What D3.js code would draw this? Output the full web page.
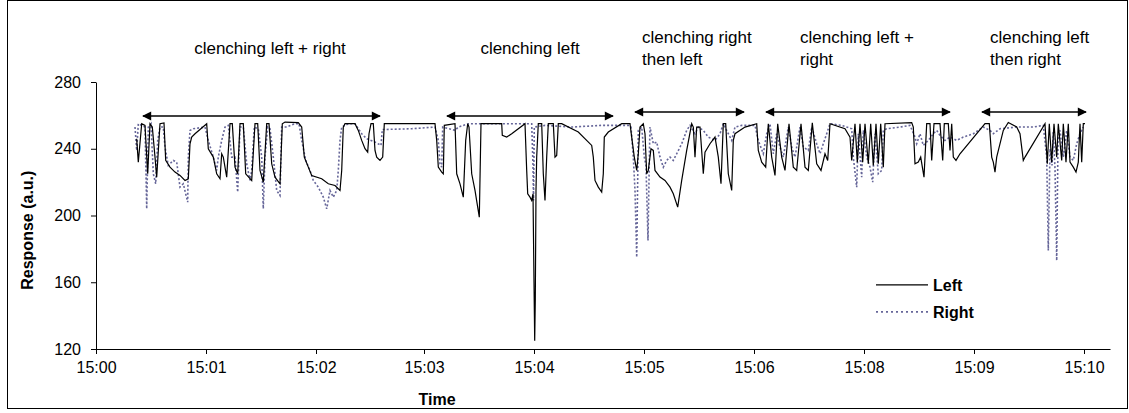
<!DOCTYPE html>
<html>
<head>
<meta charset="utf-8">
<script src="https://cdn.jsdelivr.net/npm/d3@7"></script>
<style>
  body { margin: 0; background: #fff; }
  svg { display: block; font-family: Arial, "Liberation Sans", sans-serif; }
</style>
</head>
<body>
<svg width="1129" height="413"></svg>
<script>
// sample index along the recording (x) and response in a.u. (y)
var leftSeries = [[40.7,246],[42.3,232],[45.7,255],[49,254],[51.7,225],[54,255],[56.3,253],[59,235],[60.7,223],[64,255],[68,255.5],[69.7,233],[74,229],[79,226],[84,224],[89,221],[92.3,222],[94,243],[95.7,247],[99,249],[110.7,255],[112.3,240],[117.3,235],[120.7,225],[124,222],[125.7,237],[127.3,235],[130.7,223],[134,255],[136.3,255],[139,229],[141.7,225],[144,255],[147.3,255],[149.7,225],[155.7,221],[159,255],[161.7,255],[164,227],[167.3,220],[170.7,255],[173,255],[175.7,231],[179,223],[184,219],[186.3,255],[189,256],[202.3,255.7],[205.7,253],[208.3,235],[212.3,229],[215.7,224],[225.7,222],[232.3,219],[239,218],[244,215],[245.7,227],[247.3,253],[249,255],[259,255],[262.3,251],[265.7,245],[269,240],[271.7,238],[273,249],[275,255],[277.3,255],[279,239],[280.7,235],[284,233],[286.7,235],[288.3,255],[339,255],[340.7,245],[342.3,229],[345.7,226],[347.3,225],[348.3,254],[359,255],[360.7,225],[364,219],[367.3,211],[369.7,245],[371.7,255],[373,253],[375.7,225],[379,215],[381.7,205],[383.3,199],[385,255],[405.7,255],[406.3,248],[410.7,247],[415.7,249],[429,255],[430.7,227],[431.7,213],[434,211],[435.7,209],[437,213],[438,160],[438.7,125],[439.3,150],[440,215],[440.7,235],[442.3,255],[445.7,255],[447.3,225],[449,209],[450.7,235],[452.3,255],[457.3,255],[459,235],[460.7,236],[462.3,255],[465.7,255],[482.3,250],[495.7,242],[497.3,235],[499,221],[502.3,217],[505.7,214],[507.3,225],[508.3,247],[512.3,250],[525.7,255],[534,255],[535.7,247],[538.3,235],[540.7,227],[542.3,237],[544,253],[547.3,255],[549,249],[550.7,225],[552.3,227],[555,240],[557.3,239],[559,227],[564,223],[569,221],[574,217],[577.3,213],[581.7,205],[585.7,221],[590.7,239],[595.7,255],[597.3,253],[599,235],[600.7,253],[604,253],[607.3,225],[609,238],[614,243],[619,247],[622.3,235],[625,219],[627.3,255],[629.7,255],[632.3,225],[635.7,215],[637.3,245],[639,249],[649,253],[660.7,255],[662.3,239],[665.7,232],[669.7,229],[672.3,255],[675.7,235],[679,224],[681.7,255],[685.7,235],[689,227],[693,255],[697.3,229],[700.7,227],[705,255],[709,229],[712.3,227],[716.3,255.5],[720.7,231],[725,227],[729,237],[731.7,233],[734,255],[749,252],[754,247],[755.7,233],[759,255],[761.3,232],[764,255],[766.7,232],[769,255],[772.3,231],[774.7,255],[777.3,230],[780,255],[782.3,231],[784.7,255],[787.3,229],[789,255],[815.7,255.7],[817.3,253],[819,231],[822.3,232],[824.7,235],[828,223],[830.7,255],[834,255],[835.7,233],[838,255],[844,255],[846.7,233],[848.3,255],[852.3,255],[854,239],[855.7,255],[857.3,235],[860,233],[864,237],[889,255],[893.3,255],[895.7,235],[897.3,232],[899,226],[900.7,235],[907.3,251],[912.3,255.7],[920.7,253],[924,249],[927.3,233],[929,235],[949,255],[951.3,231],[953.3,255],[955.7,232],[958,255],[960.7,235],[962.3,255],[965.7,233],[967.3,255],[970,232],[972.3,255],[974,232],[977.3,229],[980,226],[982.3,232],[984,255],[985.7,232],[987.3,255],[989,255]];

var rightSeries = [[39,253],[40.7,239],[42.3,255],[49,253],[50.7,204],[52.3,253],[55,255],[57.3,225],[59.7,219],[61.7,245],[64,253],[67.3,253],[69,241],[72.3,230],[77.3,233],[80.7,232],[84,217],[87.3,219],[91.7,208],[92.3,235],[94,251],[97.3,252],[109,253],[112.3,245],[117.3,235],[120.7,227],[122.3,235],[125.7,245],[129,253],[132.3,254],[135.7,235],[139,235],[141.7,214],[144,253],[147.3,253],[150.7,231],[154,221],[155.7,227],[158.3,253],[162.3,252],[165.7,235],[167.3,204],[169,235],[171.7,253],[174,252],[177.3,235],[180.7,215],[184,212],[185.7,253],[190.7,253],[199,255],[203,255],[205.7,245],[209.7,233],[214,227],[217.3,221],[222.3,217],[227.3,211],[230.7,204],[234,215],[237.3,211],[240.7,215],[242.3,227],[244,245],[245.7,253],[252.3,255],[259,255],[265.7,249],[270.7,246],[279,244],[285,242],[286.3,251.5],[315.7,252],[339,253],[342.3,245],[344,231],[345.7,229],[346.7,253],[359,251],[362.3,253],[372.3,255],[435.7,255],[437,230],[437.5,209],[438.3,253],[449,254],[475.7,253],[505.7,254],[532.3,254],[535,253],[537.3,235],[539,215],[540.7,175],[542.3,251],[545.7,253],[548.3,235],[550,230],[552,185],[553.5,240],[554,253],[557.3,243],[560.7,244],[564,235],[567.3,229],[570.7,233],[574,235],[577.3,233],[580.7,237],[585.7,243],[590.7,251],[594,254],[599,249],[602.3,253],[607.3,251],[612.3,247],[619,245],[624,249],[627.3,255],[632.3,249],[635.7,245],[639,253],[645.7,254],[659,254],[662.3,245],[667.3,237],[670.7,249],[674,255],[677.3,237],[680.7,249],[684,241],[687.3,235],[692.3,253],[695.7,241],[699,235],[704,253],[707.3,241],[712.3,239],[715.7,253],[720.7,243],[724,237],[727.3,243],[730.7,249],[734,255],[745.7,254],[755.7,252],[757.3,235],[760.7,217],[762.3,249],[765.7,223],[767.3,251],[770.7,235],[774,229],[776.7,220],[779,249],[782.3,225],[785.7,227],[787.3,251],[790.7,252],[804,253],[814,254],[819,247],[820.7,243],[824,249],[827.3,242],[832.3,245],[837.3,249],[840.7,251],[844,248],[849,245],[854,247],[860.7,245],[867.3,247],[877.3,249],[887.3,253],[894,251],[897.3,249],[904,252],[920.7,253],[937.3,253],[947.3,254],[950.7,235],[952.3,179],[954,240],[956,230],[957.3,250],[959,228],[960.7,173],[962,245],[964,251],[967.3,235],[970.7,251],[974,235],[977.3,233],[980.7,243],[984,249],[987.3,253]];

var tickLabels = ["15:00","15:01","15:02","15:03","15:04","15:05","15:06","15:08","15:09","15:10"];
var tickSamples = [0, 110, 220, 328, 438, 548, 658, 768, 878, 988];
var yTicks = [120, 160, 200, 240, 280];

// annotated phases: sample range of each arrow, caption lines, caption anchor sample
var phaseRanges = [[47, 284], [351, 517], [539, 648], [670, 854], [886, 990]];
var phaseLabels = [["clenching left + right"], ["clenching left"], ["clenching right", "then left"], ["clenching left +", "right"], ["clenching left", "then right"]];
var phaseTextAt = [174, 434, 546, 704, 894];

var svg = d3.select("svg"),
    margin = {top: 82, right: 19, bottom: 64, left: 96},
    width = +svg.attr("width") - margin.left - margin.right,
    height = +svg.attr("height") - margin.top - margin.bottom;

// outer frame
svg.append("rect")
    .attr("x", 7.5).attr("y", 0.5)
    .attr("width", 1120).attr("height", 408)
    .attr("fill", "none").attr("stroke", "#000");

var g = svg.append("g").attr("transform", "translate(" + margin.left + "," + margin.top + ")");

var x = d3.scaleLinear().domain([0, width]).range([0, width]),
    y = d3.scaleLinear().domain([120, 280]).range([height, 0]);

var xAxis = d3.axisBottom(x)
    .tickValues(tickSamples)
    .tickFormat(function(d, i) { return tickLabels[i]; })
    .tickSize(5).tickSizeOuter(0);

var gx = g.append("g")
    .attr("transform", "translate(0," + height + ")")
    .call(xAxis);
gx.select(".domain").attr("stroke", "#000");
gx.selectAll("text").attr("font-size", 16).attr("font-family", "Arial, 'Liberation Sans', sans-serif")
    .attr("fill", "#000").attr("dy", "1.0em");

var gy = g.append("g")
    .call(d3.axisLeft(y).tickValues(yTicks).tickSize(5).tickPadding(10).tickSizeOuter(0));
gy.selectAll("text").attr("font-size", 16).attr("font-family", "Arial, 'Liberation Sans', sans-serif")
    .attr("fill", "#000");

g.append("text")
    .attr("x", x(341))
    .attr("y", height + 56)
    .attr("text-anchor", "middle")
    .attr("font-size", 16).attr("font-weight", "bold")
    .text("Time");

g.append("text")
    .attr("transform", "rotate(-90)")
    .attr("x", -(y(155.5)))
    .attr("y", -63)
    .attr("text-anchor", "start")
    .attr("font-size", 16).attr("font-weight", "bold")
    .text("Response (a.u.)");

var line = d3.line()
    .x(function(d) { return x(d[0]); })
    .y(function(d) { return y(d[1]); });

g.append("path")
    .attr("d", line(rightSeries))
    .attr("fill", "none")
    .attr("stroke", "#666699")
    .attr("stroke-width", 1.6)
    .attr("stroke-dasharray", "2,2");

g.append("path")
    .attr("d", line(leftSeries))
    .attr("fill", "none")
    .attr("stroke", "#000")
    .attr("stroke-width", 1.2);

// arrows
var defs = svg.append("defs");
defs.append("marker")
    .attr("id", "head")
    .attr("viewBox", "0 0 10 10")
    .attr("refX", 9).attr("refY", 5)
    .attr("markerWidth", 9).attr("markerHeight", 7)
    .attr("orient", "auto-start-reverse")
    .append("path").attr("d", "M0,0L10,5L0,10z").attr("fill", "#000");

var phase = g.selectAll(".phase")
    .data(phaseRanges)
    .enter().append("g")
    .attr("class", "phase");

phase.append("line")
    .attr("x1", function(d) { return x(d[0]); })
    .attr("x2", function(d) { return x(d[1]); })
    .attr("y1", function(d, i) { return i < 2 ? 34 : 30; })
    .attr("y2", function(d, i) { return i < 2 ? 34 : 30; })
    .attr("stroke", "#000").attr("stroke-width", 1.3)
    .attr("marker-start", "url(#head)")
    .attr("marker-end", "url(#head)");

phase.append("text")
    .attr("font-size", 17)
    .attr("text-anchor", function(d, i) { return phaseLabels[i].length === 1 ? "middle" : "start"; })
    .attr("transform", function(d, i) { return "translate(" + x(phaseTextAt[i]) + ",0)"; })
    .each(function(d, i) {
      var lines = phaseLabels[i];
      var t = d3.select(this);
      lines.forEach(function(s, k) {
        t.append("tspan")
          .attr("x", 0)
          .attr("y", (lines.length === 1 ? -28 : -39) + k * 22)
          .text(s);
      });
    });

// legend
var legend = g.append("g").attr("transform", "translate(" + x(780) + "," + y(158.4) + ")");
legend.append("line").attr("x1", 0).attr("x2", 52).attr("y1", 0).attr("y2", 0)
    .attr("stroke", "#000").attr("stroke-width", 1.2);
legend.append("text").attr("x", 57).attr("y", 6).attr("font-size", 16).attr("font-weight", "bold").text("Left");
legend.append("line").attr("x1", 0).attr("x2", 52).attr("y1", 27).attr("y2", 27)
    .attr("stroke", "#666699").attr("stroke-width", 1.6).attr("stroke-dasharray", "2,3");
legend.append("text").attr("x", 57).attr("y", 33).attr("font-size", 16).attr("font-weight", "bold").text("Right");
</script>
</body>
</html>
